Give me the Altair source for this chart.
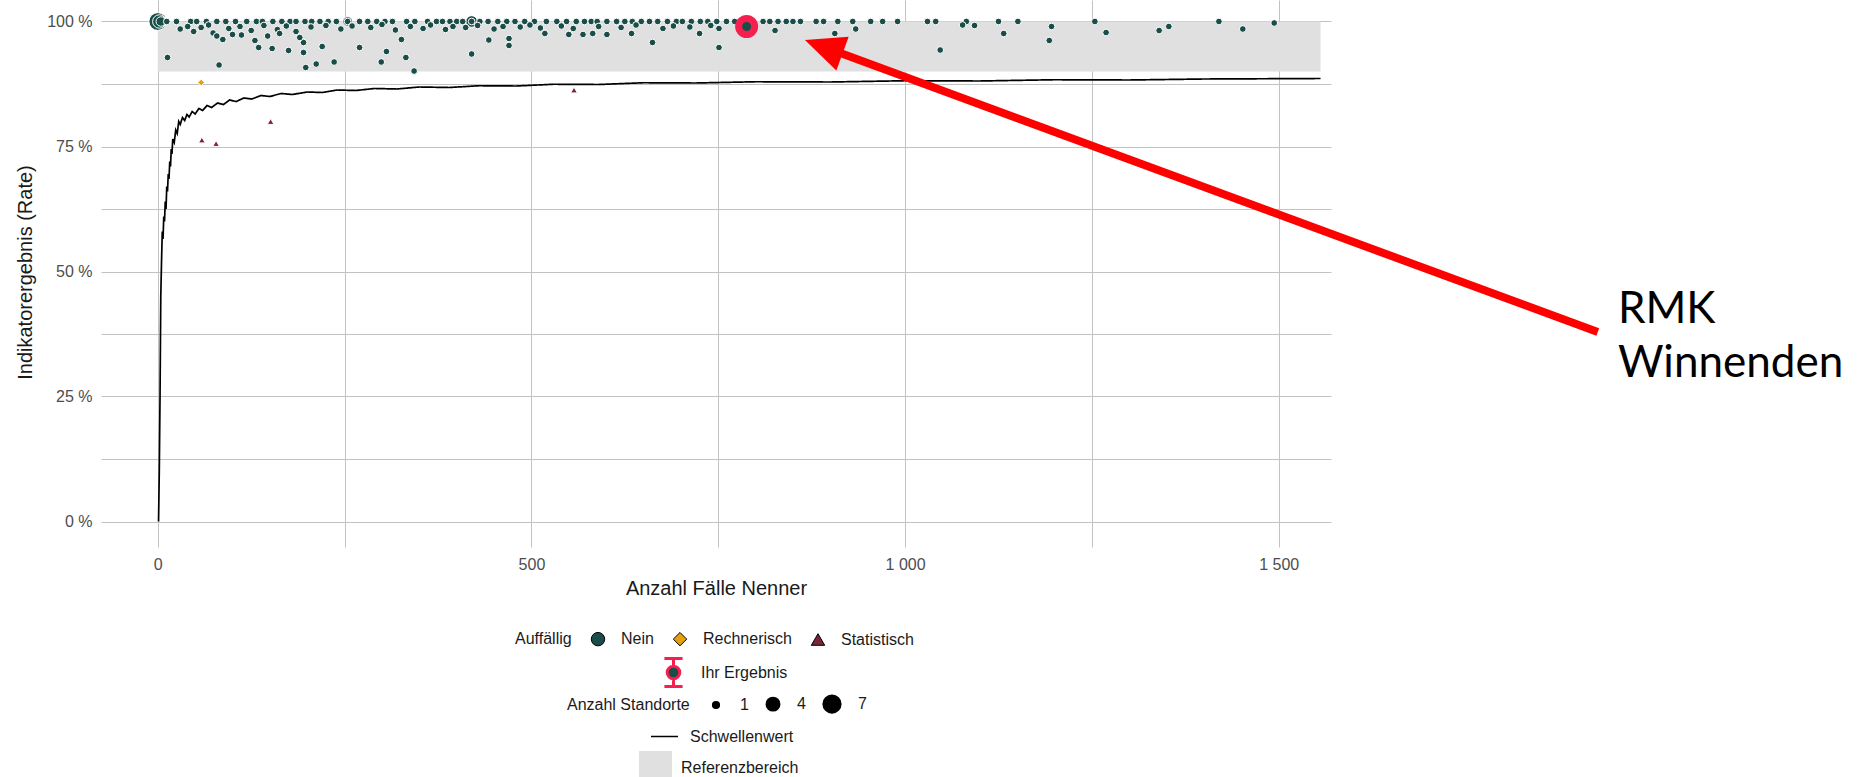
import altair as alt
import pandas as pd

FONT = "Liberation Sans"
TEAL = "#1a4d48"
ORANGE = "#e6a00f"
MAROON = "#7a2436"
HLRED = "#f5204f"
BAND = "#e0e0e0"

# ---------------- data ----------------
# Schwellenwert (threshold curve)
thr_n = [1, 2, 3, 4, 5, 6, 7, 8, 9, 10, 11, 12, 13, 14, 15, 16, 17, 18, 19, 20,
         22, 24, 26, 28, 30, 33, 36, 39, 42, 46, 50, 55, 60, 66, 72,
         80, 88, 96, 105, 115, 126, 138, 150, 165, 180,
         200, 220, 240, 265, 290, 320, 350, 390, 430, 480,
         530, 590, 650, 720, 800, 900, 1000, 1100, 1200, 1300, 1400, 1556]
thr_v = [0, 10, 25, 45, 52, 58, 56.5, 61, 60, 64, 62.5, 67, 66, 69.5, 68.5, 72, 71, 74.5, 73.5, 76.5,
         75.8, 78.3, 77.6, 80.0, 79.4, 80.8, 80.2, 81.4, 80.9, 82.0, 81.5, 82.6, 82.2, 83.2, 82.8,
         83.7, 83.4, 84.3, 84.0, 84.7, 84.5, 85.2, 85.0, 85.6, 85.4,
         85.9, 85.8, 86.3, 86.2, 86.6, 86.5, 86.9, 86.8, 87.15, 87.1,
         87.45, 87.4, 87.75, 87.7, 87.95, 87.9, 88.15, 88.1, 88.35, 88.3, 88.5, 88.6]

# Nein: sites at 100 %
row100_n = [12, 25, 44, 52, 65, 79, 91, 104, 119, 132, 140, 154, 166, 177, 185, 197, 206, 217,
            228, 239, 254, 270, 281, 293, 304, 314, 333, 344, 361, 373, 381, 391, 400, 408,
            420, 431, 442, 455, 467, 478, 491, 504, 520, 534, 547, 560, 571, 580, 588, 601,
            614, 625, 635, 647, 658, 669, 682, 694, 702, 714, 726, 736, 748, 761, 772, 810,
            819, 830, 841, 850, 860, 881, 891, 910, 930, 954, 970, 990, 1030, 1041, 1082,
            1125, 1151, 1254, 1420]
# Nein: larger markers (several sites)
big_n = [0, 2, 4, 254, 420]
big_rate = [100, 100, 100, 100, 100]
big_size = [7, 4, 2, 2, 3]
# Nein: below 100 %
below_n = [13, 82, 74, 87, 79, 100, 112, 130, 135, 153, 175, 195, 195, 198, 212, 190, 147, 163,
           220, 236, 270, 299, 306, 326, 332, 343, 420, 443, 470, 470, 518, 550, 569, 582, 601,
           634, 662, 725, 751, 751, 826, 906, 934, 1047, 1077, 1093, 1132, 1193, 1196, 1269,
           1340, 1353, 1452, 1494]
below_rate = [92.8, 91.3, 97.7, 96.4, 97.1, 97.4, 97.3, 96.2, 94.8, 94.6, 94.2, 93.8, 95.8, 90.8,
              91.5, 96.8, 97.1, 97.6, 95.0, 91.9, 94.8, 91.9, 94.0, 96.4, 92.8, 90.1, 93.5, 96.3,
              96.6, 95.2, 97.6, 97.4, 97.4, 97.6, 97.4, 97.6, 95.8, 97.6, 98.6, 94.8, 98.2, 97.6,
              98.5, 94.3, 99.3, 99.2, 97.6, 96.2, 99.0, 97.8, 98.2, 99.0, 98.5, 99.7]
# Nein: just under 100 %
near_n = [30, 40, 48, 58, 68, 95, 110, 125, 142, 160, 172, 185, 205, 225, 245, 260, 285, 300,
          318, 338, 355, 365, 385, 395, 412, 428, 450, 462, 485, 498, 512, 540, 556, 590, 620,
          640, 676, 690, 712, 740, 780]
near_rate = [98.5, 99.0, 98.0, 98.8, 99.3, 98.6, 99.0, 98.2, 99.2, 98.4, 99.1, 98.0, 98.9, 99.2,
             98.5, 99.1, 98.8, 99.4, 98.3, 99.0, 98.6, 99.3, 98.4, 99.0, 98.8, 99.2, 98.5, 99.0,
             98.9, 99.3, 98.7, 99.1, 98.6, 99.0, 98.8, 99.3, 98.6, 99.1, 98.9, 99.2, 99.4]
# Rechnerisch / Statistisch
rech_n = [58]
rech_rate = [87.8]
stat_n = [59, 78, 151, 557]
stat_rate = [76.3, 75.6, 80.0, 86.3]
# Ihr Ergebnis
hl_n = [788]
hl_rate = [99.0]
# Referenzbereich
ref_n = [0]
ref_n2 = [1556]
ref_lo = [90]
ref_hi = [100]
# Annotation
arrow_n = [1927]
arrow_rate = [37.9]
arrow_n2 = [897]
arrow_rate2 = [94.6]
tip_n = [866]
tip_rate = [96.3]
label_n = [1954]
label_rate = [39.7]
label_text = ["RMK\nWinnenden"]

# ---------------- frames ----------------
pts = []
for n in row100_n:
    pts.append({"n": n, "rate": 100.0, "auff": "Nein", "standorte": 1})
for n, r, s in zip(big_n, big_rate, big_size):
    pts.append({"n": n, "rate": r, "auff": "Nein", "standorte": s})
for n, r in zip(near_n, near_rate):
    pts.append({"n": n, "rate": r, "auff": "Nein", "standorte": 1})
for n, r in zip(below_n, below_rate):
    pts.append({"n": n, "rate": r, "auff": "Nein", "standorte": 1})
for n, r in zip(rech_n, rech_rate):
    pts.append({"n": n, "rate": r, "auff": "Rechnerisch", "standorte": 1})
for n, r in zip(stat_n, stat_rate):
    pts.append({"n": n, "rate": r, "auff": "Statistisch", "standorte": 1})
pts_df = pd.DataFrame(pts)
pts_df["order"] = pts_df["standorte"] * -1

thr_df = pd.DataFrame({"n": thr_n, "rate": thr_v, "sw": "Schwellenwert"})
hl_df = pd.DataFrame({"n": hl_n, "rate": hl_rate, "erg": "Ihr Ergebnis"})
ref_df = pd.DataFrame({"n": ref_n, "n2": ref_n2, "rate": ref_lo, "rate2": ref_hi, "ref": "Referenzbereich"})
arrow_df = pd.DataFrame({"n": arrow_n, "rate": arrow_rate, "n2": arrow_n2, "rate2": arrow_rate2})
tip_df = pd.DataFrame({"n": tip_n, "rate": tip_rate})
label_df = pd.DataFrame({"n": label_n, "rate": label_rate, "txt": label_text})

# ---------------- encodings ----------------
X_DOM = [-76, 1570]
Y_DOM = [-5.1, 104.3]

def xenc():
    return alt.X("n:Q",
                 scale=alt.Scale(domain=X_DOM, nice=False, zero=False),
                 axis=alt.Axis(values=[0, 250, 500, 750, 1000, 1250, 1500],
                               labelExpr="datum.value % 500 == 0 ? replace(format(datum.value, ','), ',', ' ') : ''",
                               title="Anzahl Fälle Nenner", titleBaseline="middle",
                               titleY=41, labelPadding=9))

def yenc():
    return alt.Y("rate:Q",
                 scale=alt.Scale(domain=Y_DOM, nice=False, zero=False),
                 axis=alt.Axis(values=[0, 12.5, 25, 37.5, 50, 62.5, 75, 87.5, 100],
                               labelExpr="datum.value % 25 == 0 ? datum.value + ' %' : ''",
                               title="Indikatorergebnis (Rate)", titleBaseline="middle",
                               titleX=-76, titleY=272, labelPadding=9))

band = alt.Chart(ref_df).mark_rect().encode(
    x=xenc(), x2="n2:Q", y=yenc(), y2="rate2:Q",
    fill=alt.Fill("ref:N", scale=alt.Scale(domain=["Referenzbereich"], range=[BAND]),
                  legend=alt.Legend(title=None, orient="none", legendX=538, legendY=751,
                                    direction="horizontal", symbolType="square",
                                    symbolSize=1089, symbolStrokeWidth=0, labelOffset=9)),
)

line = alt.Chart(thr_df).mark_line(color="black", strokeWidth=1.7).encode(
    x=xenc(), y=yenc(), order="n:Q",
    strokeDash=alt.StrokeDash("sw:N", scale=alt.Scale(domain=["Schwellenwert"], range=[[1, 0]]),
                              legend=alt.Legend(title=None, orient="none", legendX=549, legendY=722,
                                                direction="horizontal", symbolType="stroke",
                                                symbolSize=729, symbolStrokeColor="black",
                                                symbolStrokeWidth=1.5, labelOffset=11)),
)

auff_legend = alt.Legend(title="Auffällig", orient="none", legendX=414, legendY=631,
                         direction="horizontal", titleOrient="left",
                         symbolSize=180, symbolStrokeColor="black",
                         symbolStrokeWidth=1, labelOffset=15, columnPadding=17,
                         titlePadding=18)

points = alt.Chart(pts_df).mark_point(filled=True, stroke="white", strokeWidth=1, opacity=1).encode(
    x=xenc(), y=yenc(),
    color=alt.Color("auff:N",
                    scale=alt.Scale(domain=["Nein", "Rechnerisch", "Statistisch"],
                                    range=[TEAL, ORANGE, MAROON]),
                    legend=auff_legend),
    shape=alt.Shape("auff:N",
                    scale=alt.Scale(domain=["Nein", "Rechnerisch", "Statistisch"],
                                    range=["circle", "diamond", "triangle-up"]),
                    legend=auff_legend),
    size=alt.Size("standorte:Q", scale=alt.Scale(domain=[0, 7], range=[0, 315]),
                  legend=alt.Legend(title="Anzahl Standorte", orient="none", legendX=466, legendY=694,
                                    direction="horizontal", titleOrient="left", values=[1, 4, 7],
                                    symbolFillColor="black", symbolStrokeColor="black",
                                    symbolType="circle", labelOffset=16, columnPadding=14,
                                    titlePadding=18)),
    order=alt.Order("order:Q"),
)

ERR_PATH = ("M-0.65,-1H0.65M0,-1V-0.45M0,0.45V1M-0.65,1H0.65"
            "M0.45,0A0.45,0.45,0,1,1,-0.45,0A0.45,0.45,0,1,1,0.45,0Z")

# carries the "Ihr Ergebnis" legend; drawn small underneath the highlight ring
carrier = alt.Chart(hl_df).mark_point(filled=True, fill=TEAL, shape=ERR_PATH, size=100,
                                      strokeWidth=3, opacity=1).encode(
    x=xenc(), y=yenc(),
    stroke=alt.Stroke("erg:N", scale=alt.Scale(domain=["Ihr Ergebnis"], range=[HLRED]),
                      legend=alt.Legend(title=None, orient="none", legendX=557, legendY=657,
                                        direction="horizontal", symbolSize=784,
                                        symbolFillColor=TEAL, symbolStrokeWidth=3,
                                        labelOffset=12)),
)

highlight = alt.Chart(hl_df).mark_point(filled=True, fill=TEAL, stroke=HLRED, strokeWidth=7,
                                        size=256, opacity=1).encode(x=xenc(), y=yenc())

arrow = alt.Chart(arrow_df).mark_rule(color="#ff0000", strokeWidth=8).encode(
    x=xenc(), y=yenc(), x2="n2:Q", y2="rate2:Q")

tip = alt.Chart(tip_df).mark_point(filled=True, color="#ff0000", opacity=1,
                                   shape="M0,0L0.45,1L-0.45,1Z", size=6400, angle=290).encode(
    x=xenc(), y=yenc())

label = alt.Chart(label_df).mark_text(align="left", baseline="alphabetic", font="Lato",
                                      fontSize=44, lineBreak="\n", lineHeight=54,
                                      color="black").encode(
    x=xenc(), y=yenc(), text="txt:N")

chart = alt.layer(band, line, points, carrier, highlight, arrow, tip, label).properties(
    width=1230, height=547,
    autosize=alt.AutoSizeParams(type="none"),
    padding={"left": 101, "top": 0, "right": 527, "bottom": 230},
    background="white",
).configure_view(stroke=None).configure_axis(
    grid=True, gridColor="#c2c2c2", gridWidth=1, domain=False, ticks=False,
    labelFont=FONT, labelFontSize=16, labelColor="#4d4d4d",
    titleFont=FONT, titleFontSize=20, titleColor="#1a1a1a", titleFontWeight="normal",
).configure_legend(
    labelFont=FONT, labelFontSize=16, labelColor="#1a1a1a",
    titleFont=FONT, titleFontSize=16, titleColor="#1a1a1a", titleFontWeight="normal",
    padding=0, titleAnchor="middle", titleBaseline="middle",
)

chart.save("out.html", embed_options={"renderer": "svg", "actions": False})
